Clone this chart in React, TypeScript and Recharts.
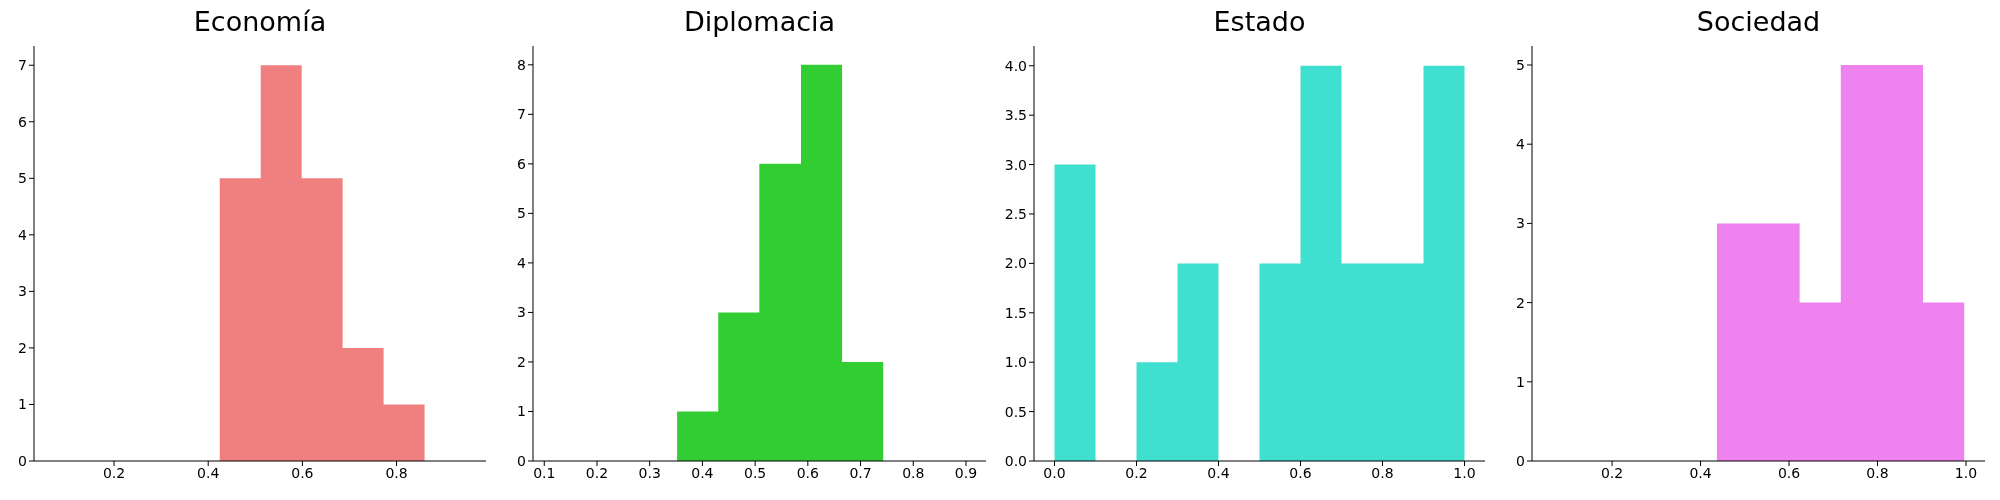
import { Area, ComposedChart, XAxis, YAxis } from 'recharts'

// histogram bin edges and counts
const economiaEdges = [0.4245, 0.5115, 0.5985, 0.6855, 0.7725, 0.8595]
const economiaCounts = [5, 7, 5, 2, 1]
const diplomaciaEdges = [0.352, 0.43, 0.508, 0.587, 0.665, 0.743]
const diplomaciaCounts = [1, 3, 6, 8, 2]
const estadoEdges = [0, 0.1, 0.2, 0.3, 0.4, 0.5, 0.6, 0.7, 0.8, 0.9, 1.0]
const estadoCounts = [3, 0, 1, 2, 0, 2, 4, 2, 2, 4]
const sociedadEdges = [0.437, 0.53, 0.624, 0.717, 0.81, 0.903, 0.996]
const sociedadCounts = [3, 3, 2, 5, 5, 2]

const economiaXTicks = [0.2, 0.4, 0.6, 0.8]
const diplomaciaXTicks = [0.1, 0.2, 0.3, 0.4, 0.5, 0.6, 0.7, 0.8, 0.9]
const estadoXTicks = [0, 0.2, 0.4, 0.6, 0.8, 1.0]
const sociedadXTicks = [0.2, 0.4, 0.6, 0.8, 1.0]
const economiaYTicks = [0, 1, 2, 3, 4, 5, 6, 7]
const diplomaciaYTicks = [0, 1, 2, 3, 4, 5, 6, 7, 8]
const estadoYTicks = [0, 0.5, 1, 1.5, 2, 2.5, 3, 3.5, 4]
const sociedadYTicks = [0, 1, 2, 3, 4, 5]

const FONT = 'DejaVu Sans, sans-serif'
const tick = { fontSize: 14, fill: '#000', fontFamily: FONT }
const Y_AXIS_W = 40

type PanelProps = {
  title: string
  edges: number[]
  counts: number[]
  color: string
  xDomain: [number, number]
  yMax: number
  xTicks: number[]
  yTicks: number[]
  xFmt: (v: number) => string
  yFmt: (v: number) => string
  plotLeft: number
  plotRight: number
}

function Panel(p: PanelProps) {
  const data = p.edges.map((x, i) => ({
    x,
    y: i < p.counts.length ? p.counts[i] : p.counts[p.counts.length - 1],
  }))
  const width = p.plotRight - p.plotLeft + Y_AXIS_W
  return (
    <div style={{ position: 'absolute', left: p.plotLeft - Y_AXIS_W, top: 0, width, height: 500 }}>
      <div
        style={{
          position: 'absolute',
          left: Y_AXIS_W,
          width: p.plotRight - p.plotLeft,
          top: 6,
          textAlign: 'center',
          fontFamily: FONT,
          fontSize: 27,
          lineHeight: '32px',
        }}
      >
        {p.title}
      </div>
      <ComposedChart width={width} height={500} data={data} margin={{ top: 46, right: 0, bottom: 0, left: 0 }}>
        <XAxis
          dataKey="x"
          type="number"
          domain={p.xDomain}
          ticks={p.xTicks}
          tickFormatter={p.xFmt}
          tick={tick}
          tickSize={5}
          height={39}
          allowDataOverflow
          axisLine={{ stroke: '#000' }}
          tickLine={{ stroke: '#000' }}
        />
        <XAxis xAxisId="top" orientation="top" dataKey="x" type="number" domain={p.xDomain} height={0} tick={false} tickLine={false} axisLine={{ stroke: '#000' }} allowDataOverflow />
        <YAxis
          type="number"
          domain={[0, p.yMax]}
          ticks={p.yTicks}
          tickFormatter={p.yFmt}
          tick={tick}
          tickSize={5}
          width={Y_AXIS_W}
          allowDataOverflow
          axisLine={{ stroke: '#000' }}
          tickLine={{ stroke: '#000' }}
        />
        <YAxis yAxisId="right" orientation="right" domain={[0, p.yMax]} width={0} tick={false} tickLine={false} axisLine={{ stroke: '#000' }} />
        <Area
          type="stepAfter"
          dataKey="y"
          stroke="none"
          fill={p.color}
          fillOpacity={1}
          baseValue={0}
          isAnimationActive={false}
          dot={false}
          activeDot={false}
        />
      </ComposedChart>
    </div>
  )
}

const f1 = (v: number) => v.toFixed(1)
const f0 = (v: number) => String(v)

export default function App() {
  return (
    <div style={{ position: 'fixed', left: 0, top: 0, width: 2000, height: 500, background: '#fff' }}>
      <Panel title="Economía" edges={economiaEdges} counts={economiaCounts} color="#F08080" xDomain={[0.03, 0.99]} yMax={7.34} xTicks={economiaXTicks} yTicks={economiaYTicks} xFmt={f1} yFmt={f0} plotLeft={34} plotRight={486} />
      <Panel title="Diplomacia" edges={diplomaciaEdges} counts={diplomaciaCounts} color="#32CD32" xDomain={[0.0786, 0.938]} yMax={8.38} xTicks={diplomaciaXTicks} yTicks={diplomaciaYTicks} xFmt={f1} yFmt={f0} plotLeft={533} plotRight={986} />
      <Panel title="Estado" edges={estadoEdges} counts={estadoCounts} color="#40E0D0" xDomain={[-0.05, 1.05]} yMax={4.2} xTicks={estadoXTicks} yTicks={estadoYTicks} xFmt={f1} yFmt={f1} plotLeft={1034} plotRight={1485} />
      <Panel title="Sociedad" edges={sociedadEdges} counts={sociedadCounts} color="#EE82EE" xDomain={[0.019, 1.043]} yMax={5.24} xTicks={sociedadXTicks} yTicks={sociedadYTicks} xFmt={f1} yFmt={f0} plotLeft={1532} plotRight={1985} />
    </div>
  )
}
